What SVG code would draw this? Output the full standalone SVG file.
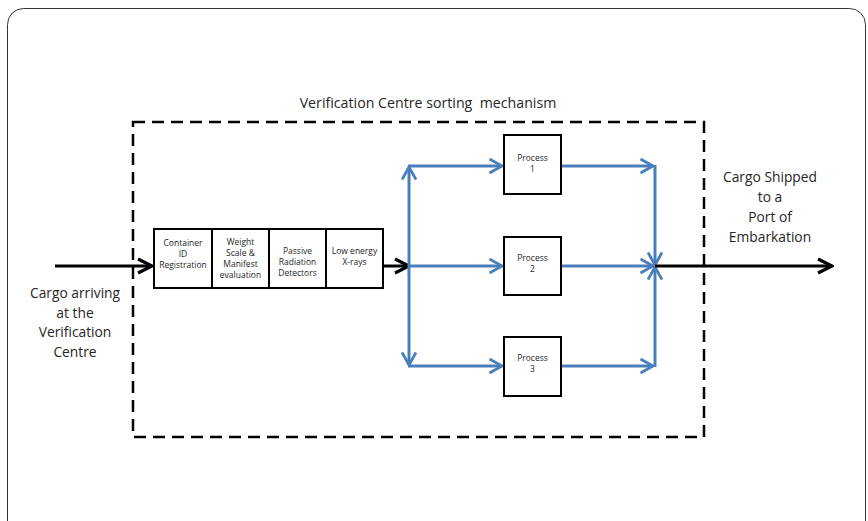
<svg xmlns="http://www.w3.org/2000/svg" width="868" height="521" viewBox="0 0 868 521">
  <style>
    .txt { font-family: "Open Sans", "Liberation Sans", sans-serif; fill: #262626; text-anchor: middle; }
    .big { font-size: 13.8px; }
    .small { font-size: 8.5px; }
    .box { fill: #ffffff; stroke: #000000; stroke-width: 2; }
    .blue { fill: none; stroke: #4a7ebb; stroke-width: 3; }
    .black { fill: none; stroke: #000000; stroke-width: 3; }
  </style>
  <defs>
    <marker id="chevBlue" viewBox="0 0 16 16" refX="14" refY="8" markerWidth="16" markerHeight="16" markerUnits="userSpaceOnUse" orient="auto">
      <path d="M1.5,1 L14,8 L1.5,15" fill="none" stroke="#4a7ebb" stroke-width="2.8"/>
    </marker>
    <marker id="chevBlack" viewBox="0 0 18 18" refX="16" refY="9" markerWidth="18" markerHeight="18" markerUnits="userSpaceOnUse" orient="auto">
      <path d="M2,2 L16,9 L2,16" fill="none" stroke="#000000" stroke-width="3.2"/>
    </marker>
  </defs>

  <!-- frame -->
  <rect x="7.5" y="8.5" width="858" height="530" rx="16" fill="#ffffff" stroke="#333333" stroke-width="1"/>

  <!-- sorting mechanism boundary -->
  <g id="mechanism">
    <rect x="133" y="122" width="571" height="315" fill="none" stroke="#000000" stroke-width="2.5" stroke-dasharray="12,7"/>
    <text class="txt" x="428" y="108" font-size="14.2" style="white-space:pre">Verification Centre sorting  mechanism</text>
  </g>

  <!-- connectors -->
  <g id="connectors">
    <line class="black" x1="55" y1="266" x2="152" y2="266" marker-end="url(#chevBlack)"/>
    <line class="black" x1="384" y1="266" x2="409" y2="266" marker-end="url(#chevBlack)"/>
    <line class="blue" x1="409" y1="266" x2="409" y2="167" marker-end="url(#chevBlue)"/>
    <line class="blue" x1="409" y1="266" x2="409" y2="365" marker-end="url(#chevBlue)"/>
    <line class="blue" x1="408" y1="166" x2="502" y2="166" marker-end="url(#chevBlue)"/>
    <line class="blue" x1="409" y1="266" x2="502" y2="266" marker-end="url(#chevBlue)"/>
    <line class="blue" x1="408" y1="366" x2="502" y2="366" marker-end="url(#chevBlue)"/>
    <line class="blue" x1="562" y1="166" x2="653" y2="166" marker-end="url(#chevBlue)"/>
    <line class="blue" x1="562" y1="266" x2="653" y2="266" marker-end="url(#chevBlue)"/>
    <line class="blue" x1="562" y1="366" x2="653" y2="366" marker-end="url(#chevBlue)"/>
    <line class="blue" x1="655" y1="165" x2="655" y2="265" marker-end="url(#chevBlue)"/>
    <line class="blue" x1="655" y1="367" x2="655" y2="267" marker-end="url(#chevBlue)"/>
    <line class="black" x1="655" y1="266" x2="832" y2="266" marker-end="url(#chevBlack)"/>
  </g>

  <!-- inspection stages -->
  <g id="container-id">
    <rect class="box" x="154" y="229" width="58" height="59"/>
    <text class="txt small" x="183" y="246">Container</text>
    <text class="txt small" x="183" y="257">ID</text>
    <text class="txt small" x="183" y="268">Registration</text>
  </g>
  <g id="weight-scale">
    <rect class="box" x="212" y="229" width="57" height="59"/>
    <text class="txt small" x="240.5" y="245">Weight</text>
    <text class="txt small" x="240.5" y="256">Scale &amp;</text>
    <text class="txt small" x="240.5" y="267">Manifest</text>
    <text class="txt small" x="240.5" y="278">evaluation</text>
  </g>
  <g id="radiation">
    <rect class="box" x="269" y="229" width="57" height="59"/>
    <text class="txt small" x="297.5" y="254">Passive</text>
    <text class="txt small" x="297.5" y="265">Radiation</text>
    <text class="txt small" x="297.5" y="276">Detectors</text>
  </g>
  <g id="xrays">
    <rect class="box" x="326" y="229" width="57" height="59"/>
    <text class="txt small" x="354.5" y="254">Low energy</text>
    <text class="txt small" x="354.5" y="265">X-rays</text>
  </g>

  <!-- parallel processes -->
  <g id="process-1">
    <rect class="box" x="504" y="135" width="57" height="59"/>
    <text class="txt small" x="532.5" y="161">Process</text>
    <text class="txt small" x="532.5" y="172">1</text>
  </g>
  <g id="process-2">
    <rect class="box" x="504" y="237" width="57" height="58"/>
    <text class="txt small" x="532.5" y="261">Process</text>
    <text class="txt small" x="532.5" y="272">2</text>
  </g>
  <g id="process-3">
    <rect class="box" x="504" y="337" width="57" height="59"/>
    <text class="txt small" x="532.5" y="361">Process</text>
    <text class="txt small" x="532.5" y="372">3</text>
  </g>

  <!-- end labels -->
  <g id="arrival">
    <text class="txt big" x="75" y="298">Cargo arriving</text>
    <text class="txt big" x="75" y="318">at the</text>
    <text class="txt big" x="75" y="337">Verification</text>
    <text class="txt big" x="75" y="357">Centre</text>
  </g>
  <g id="shipping">
    <text class="txt big" x="770" y="182">Cargo Shipped</text>
    <text class="txt big" x="770" y="202">to a</text>
    <text class="txt big" x="770" y="222">Port of</text>
    <text class="txt big" x="770" y="242">Embarkation</text>
  </g>
</svg>
